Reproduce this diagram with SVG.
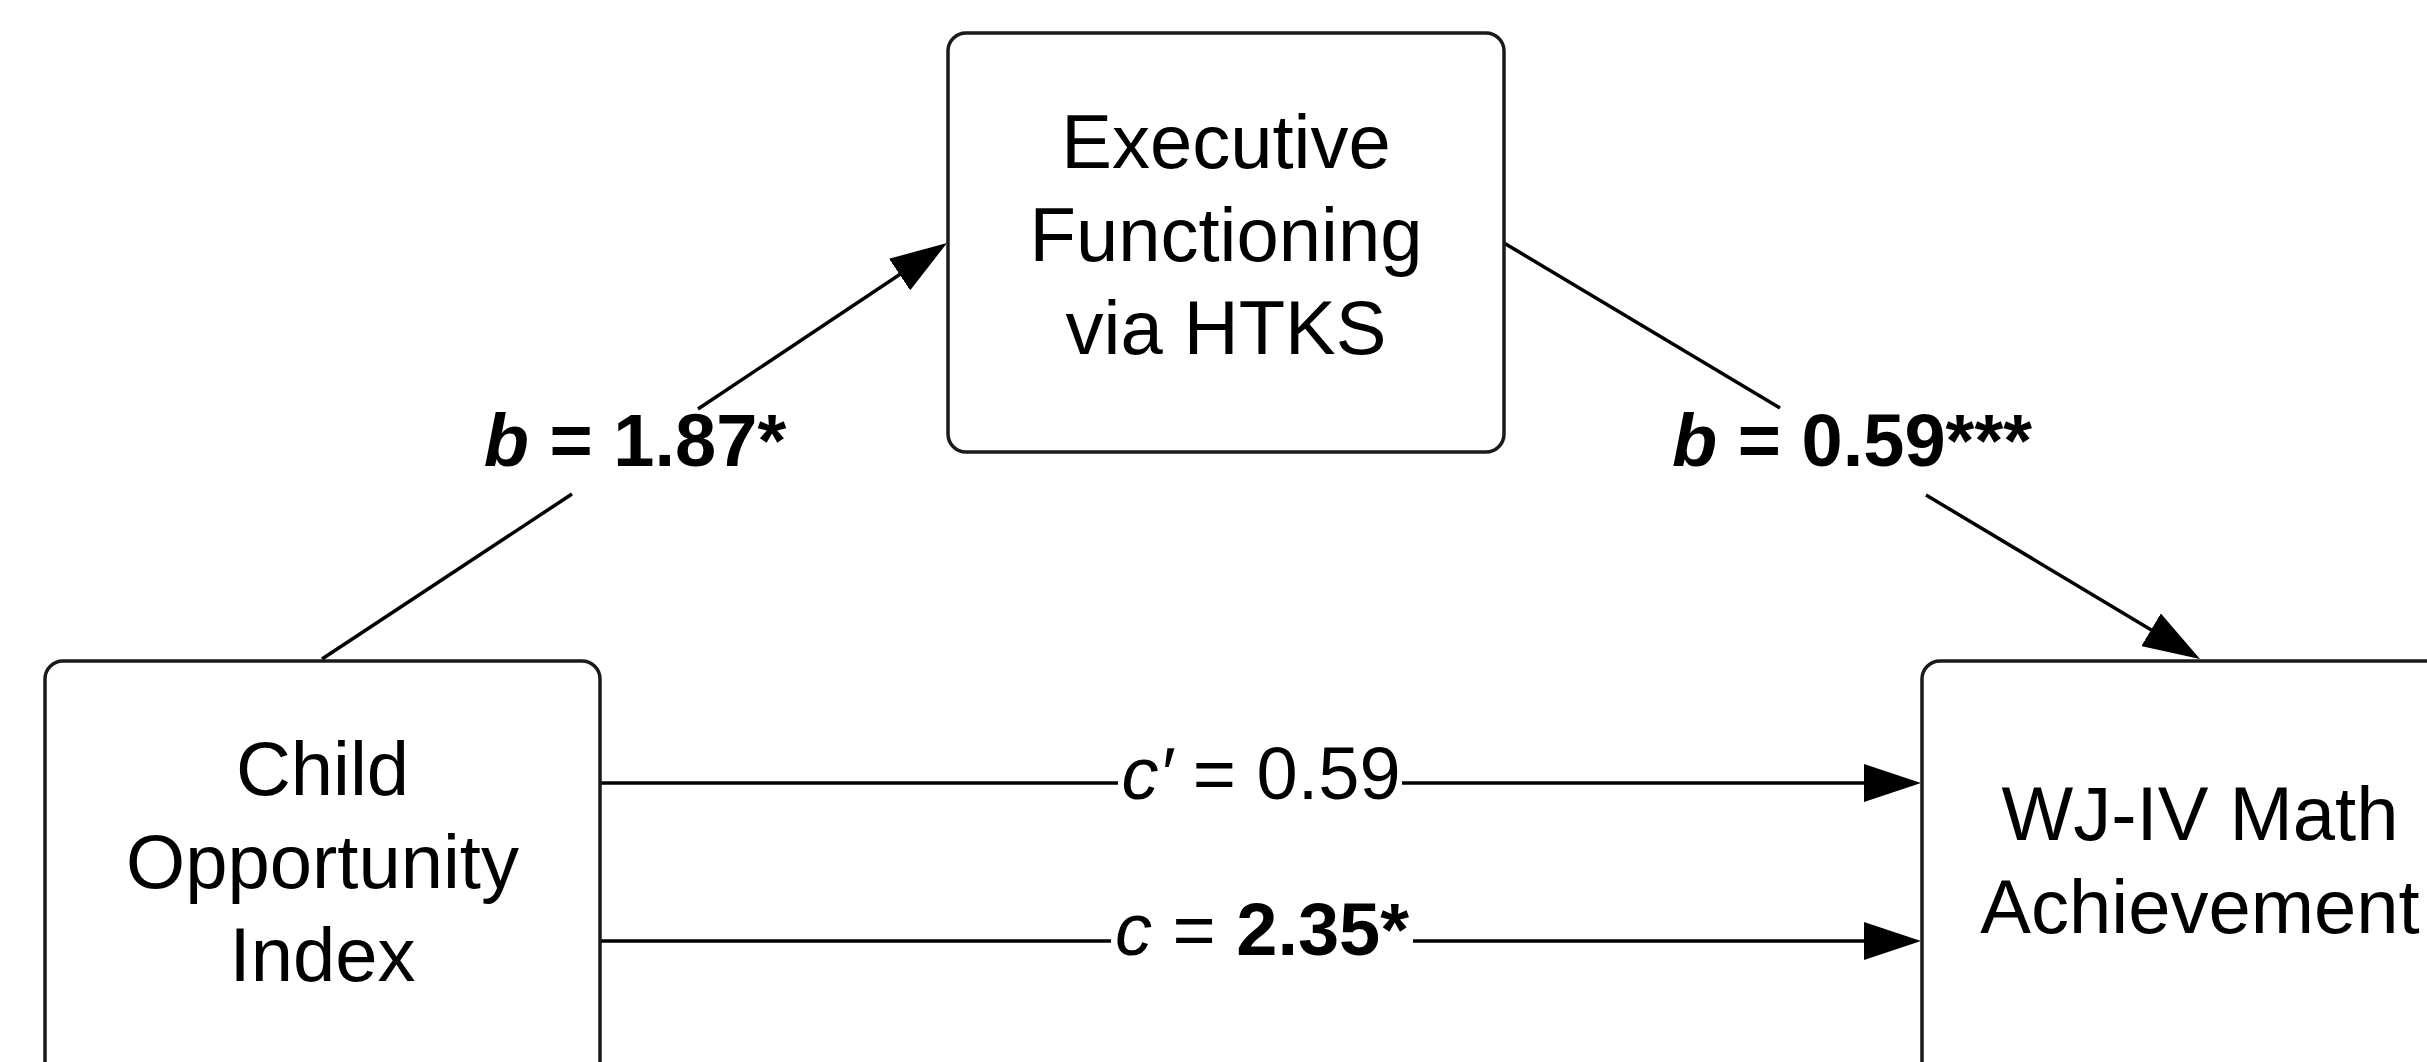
<svg xmlns="http://www.w3.org/2000/svg" width="2427" height="1062" viewBox="0 0 2427 1062">
  <style>
    .box { fill: #ffffff; stroke: #1a1a1a; stroke-width: 3.5; }
    .node-text { font-family: "Liberation Sans", Arial, sans-serif; font-size: 76px; fill: #000000; text-anchor: middle; }
    .label { font-family: "Liberation Sans", Arial, sans-serif; font-size: 74px; fill: #000000; text-anchor: middle; }
    .edge { fill: none; stroke: #000000; stroke-width: 3.5; }
    .it { font-style: italic; }
    .bd { font-weight: bold; }
  </style>
  <defs>
    <marker id="arrow" viewBox="0 0 57 38" refX="47" refY="19" markerWidth="57" markerHeight="38" markerUnits="userSpaceOnUse" orient="auto">
      <path d="M0,0 L57,19 L0,38 Z" fill="#000000"/>
    </marker>
  </defs>
  <rect width="2427" height="1062" fill="#ffffff"/>

  <g id="connectors">
    <path class="edge" d="M322,659 L572,494"/>
    <path class="edge" d="M698,409 L938.7,248.5" marker-end="url(#arrow)"/>
    <path class="edge" d="M1504,243 L1780,408"/>
    <path class="edge" d="M1926,495 L2191.4,653.9" marker-end="url(#arrow)"/>
    <path class="edge" d="M600,783 L1118,783"/>
    <path class="edge" d="M1402,783 L1911,783" marker-end="url(#arrow)"/>
    <path class="edge" d="M600,941 L1111,941"/>
    <path class="edge" d="M1413,941 L1911,941" marker-end="url(#arrow)"/>
    <text class="label" x="635" y="466"><tspan class="bd it">b</tspan><tspan class="bd"> = 1.87*</tspan></text>
    <text class="label" x="1852" y="466"><tspan class="bd it">b</tspan><tspan class="bd"> = 0.59***</tspan></text>
    <text class="label" x="1261" y="799"><tspan class="it">c′</tspan> = 0.59</text>
    <text class="label" x="1262" y="955"><tspan class="it">c</tspan> = <tspan class="bd">2.35*</tspan></text>
  </g>

  <g id="node-ef">
    <rect class="box" x="948" y="33" width="556" height="419" rx="18" ry="18"/>
    <text class="node-text" x="1226" y="168">Executive</text>
    <text class="node-text" x="1226" y="261">Functioning</text>
    <text class="node-text" x="1226" y="354">via HTKS</text>
  </g>

  <g id="node-coi">
    <rect class="box" x="45" y="661" width="555" height="419" rx="18" ry="18"/>
    <text class="node-text" x="322.5" y="795">Child</text>
    <text class="node-text" x="322.5" y="888">Opportunity</text>
    <text class="node-text" x="322.5" y="981">Index</text>
  </g>

  <g id="node-wj">
    <rect class="box" x="1922" y="661" width="556" height="419" rx="18" ry="18"/>
    <text class="node-text" x="2200" y="840">WJ-IV Math</text>
    <text class="node-text" x="2200" y="933">Achievement</text>
  </g>
</svg>
